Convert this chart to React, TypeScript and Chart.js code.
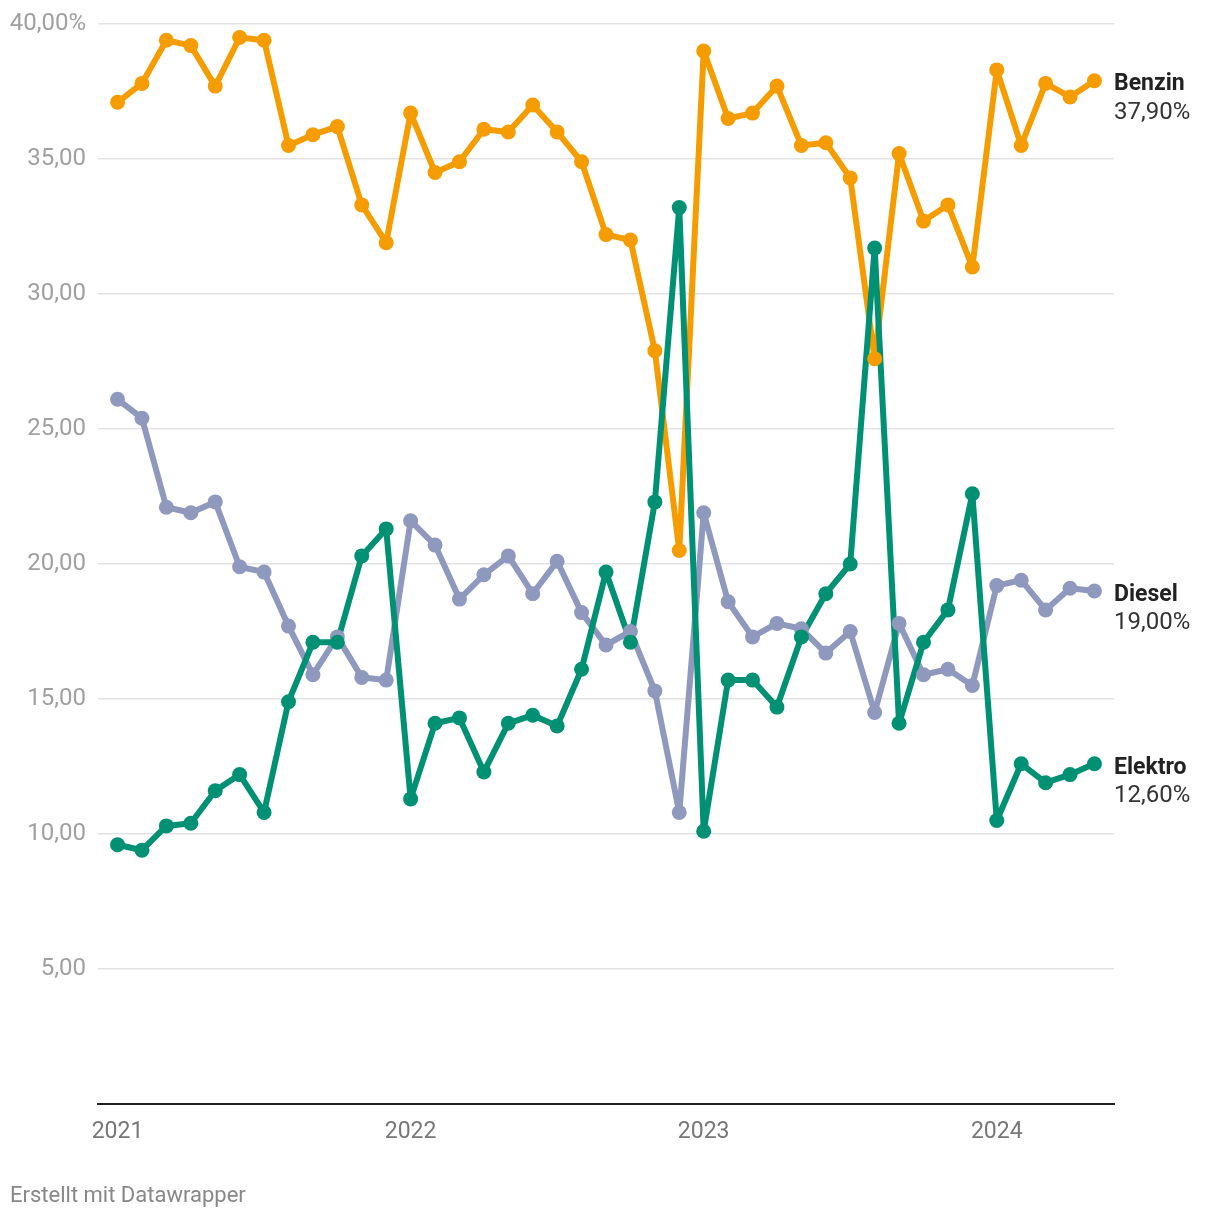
import React, { useEffect, useRef } from "react";
import { Chart, registerables } from "chart.js";

Chart.register(...registerables);

const months: string[] = [
  "2021-01", "2021-02", "2021-03", "2021-04", "2021-05", "2021-06", "2021-07", "2021-08", "2021-09", "2021-10", "2021-11", "2021-12",
  "2022-01", "2022-02", "2022-03", "2022-04", "2022-05", "2022-06", "2022-07", "2022-08", "2022-09", "2022-10", "2022-11", "2022-12",
  "2023-01", "2023-02", "2023-03", "2023-04", "2023-05", "2023-06", "2023-07", "2023-08", "2023-09", "2023-10", "2023-11", "2023-12",
  "2024-01", "2024-02", "2024-03", "2024-04", "2024-05",
];

const benzin: number[] = [
  37.1, 37.8, 39.4, 39.2, 37.7, 39.5, 39.4, 35.5, 35.9, 36.2, 33.3, 31.9,
  36.7, 34.5, 34.9, 36.1, 36.0, 37.0, 36.0, 34.9, 32.2, 32.0, 27.9, 20.5,
  39.0, 36.5, 36.7, 37.7, 35.5, 35.6, 34.3, 27.6, 35.2, 32.7, 33.3, 31.0,
  38.3, 35.5, 37.8, 37.3, 37.9,
];

const diesel: number[] = [
  26.1, 25.4, 22.1, 21.9, 22.3, 19.9, 19.7, 17.7, 15.9, 17.3, 15.8, 15.7,
  21.6, 20.7, 18.7, 19.6, 20.3, 18.9, 20.1, 18.2, 17.0, 17.5, 15.3, 10.8,
  21.9, 18.6, 17.3, 17.8, 17.6, 16.7, 17.5, 14.5, 17.8, 15.9, 16.1, 15.5,
  19.2, 19.4, 18.3, 19.1, 19.0,
];

const elektro: number[] = [
  9.6, 9.4, 10.3, 10.4, 11.6, 12.2, 10.8, 14.9, 17.1, 17.1, 20.3, 21.3,
  11.3, 14.1, 14.3, 12.3, 14.1, 14.4, 14.0, 16.1, 19.7, 17.1, 22.3, 33.2,
  10.1, 15.7, 15.7, 14.7, 17.3, 18.9, 20.0, 31.7, 14.1, 17.1, 18.3, 22.6,
  10.5, 12.6, 11.9, 12.2, 12.6,
];

const seriesNames: string[] = ["Benzin", "Diesel", "Elektro"];
const seriesColors: string[] = ["#f59c00", "#8f98bd", "#009073"];
const yTickValues: number[] = [5, 10, 15, 20, 25, 30, 35, 40];
const yearLabels: string[] = ["2021", "2022", "2023", "2024"];
const footerText = "Erstellt mit Datawrapper";

const fmt = (v: number) => v.toFixed(2).replace(".", ",");

export default function App() {
  const ref = useRef<HTMLCanvasElement | null>(null);

  useEffect(() => {
    document.body.style.margin = "0";
    const canvas = ref.current;
    if (!canvas) return;
    const values = [benzin, diesel, elektro];
    const toPts = (arr: number[]) => arr.map((v, i) => ({ x: i, y: v }));
    const yearIdx = yearLabels.map((y) => months.indexOf(y + "-01"));

    // line datasets (drawn below) and point datasets (drawn above)
    const lineOrder = [11, 12, 10];
    const datasets: any[] = [];
    values.forEach((arr, i) => {
      datasets.push({
        label: seriesNames[i] + "-line",
        data: toPts(arr),
        borderColor: seriesColors[i],
        backgroundColor: seriesColors[i],
        borderWidth: 6,
        pointRadius: 0,
        tension: 0,
        order: lineOrder[i],
        borderJoinStyle: "round",
        borderCapStyle: "round",
      });
    });
    values.forEach((arr, i) => {
      datasets.push({
        label: seriesNames[i],
        data: toPts(arr),
        showLine: false,
        borderColor: seriesColors[i],
        backgroundColor: seriesColors[i],
        pointRadius: 7.5,
        pointBorderWidth: 0,
        order: lineOrder[i] - 10,
      });
    });

    const labelPlugin = {
      id: "endLabels",
      afterDraw(chart: any) {
        const ctx = chart.ctx;
        ctx.save();
        values.forEach((arr, i) => {
          const meta = chart.getDatasetMeta(i + 3);
          const pt = meta.data[arr.length - 1];
          const x = chart.chartArea.right;
          ctx.textAlign = "left";
          ctx.textBaseline = "middle";
          ctx.fillStyle = "#222222";
          ctx.font = "bold 23px Roboto";
          ctx.fillText(seriesNames[i], x, pt.y + 4);
          ctx.fillStyle = "#333333";
          ctx.font = "24px Roboto";
          ctx.fillText(fmt(arr[arr.length - 1]) + "%", x, pt.y + 32);
        });
        ctx.fillStyle = "#888888";
        ctx.font = "22px Roboto";
        ctx.textAlign = "left";
        ctx.textBaseline = "middle";
        ctx.fillText(footerText, 10, 1196);
        ctx.restore();
      },
    };

    const chart = new Chart(canvas, {
      type: "line",
      data: { datasets },
      options: {
        animation: false,
        responsive: false,
        maintainAspectRatio: false,
        layout: { padding: { left: 0, right: 106, top: 24, bottom: 0 } },
        plugins: {
          legend: { display: false },
          tooltip: { enabled: false },
        },
        scales: {
          x: {
            type: "linear",
            min: -0.8,
            max: 40.8,
            afterFit: (s: any) => {
              s.height = 116;
              s.paddingLeft = 0;
              s.paddingRight = 0;
            },
            afterBuildTicks: (s: any) => {
              s.ticks = yearIdx.map((v) => ({ value: v }));
            },
            grid: { display: false, drawTicks: false },
            border: { display: true, color: "#222222", width: 2 },
            ticks: {
              padding: 14,
              color: "#777777",
              font: { family: "Roboto", size: 23 },
              maxRotation: 0,
              autoSkip: false,
              callback: (v: any) => {
                const k = yearIdx.indexOf(Number(v));
                return k >= 0 ? yearLabels[k] : "";
              },
            },
          },
          y: {
            min: 0,
            max: 40,
            afterFit: (s: any) => {
              s.width = 98;
              s.paddingTop = 0;
              s.paddingBottom = 0;
            },
            afterBuildTicks: (s: any) => {
              s.ticks = [0, ...yTickValues].map((v) => ({ value: v }));
            },
            grid: {
              drawTicks: false,
              color: (c: any) => (c.tick && c.tick.value === 0 ? "rgba(0,0,0,0)" : "#e3e3e3"),
              lineWidth: 1.5,
            },
            border: { display: false },
            ticks: {
              padding: 12,
              color: "#a0a0a0",
              font: { family: "Roboto", size: 24 },
              callback: (v: any) => {
                const n = Number(v);
                if (n === 0) return "";
                return fmt(n) + (n === 40 ? "%" : "");
              },
            },
          },
        },
      },
      plugins: [labelPlugin],
    });
    return () => chart.destroy();
  }, []);

  return (
    <div style={{ width: 1220, height: 1220, background: "#ffffff" }}>
      <canvas ref={ref} width={1220} height={1220} style={{ display: "block" }} />
    </div>
  );
}
